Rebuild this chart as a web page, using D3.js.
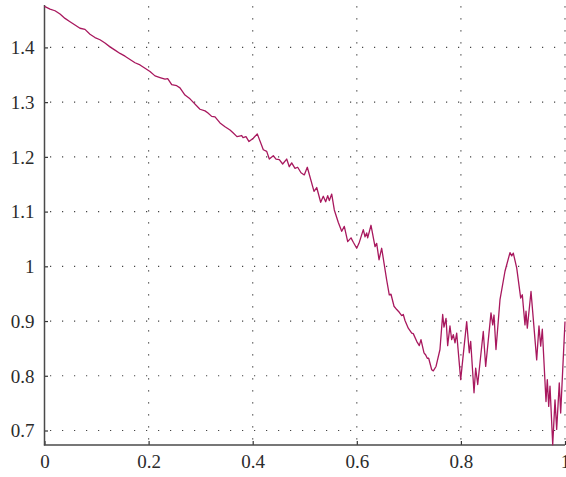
<!DOCTYPE html>
<html>
<head>
<meta charset="utf-8">
<script src="https://cdn.jsdelivr.net/npm/d3@7"></script>
<style>
  body { margin: 0; background: #fff; }
</style>
</head>
<body>
<div id="chart"></div>
<script>
// values
const xs = [0, 0.0106, 0.0202, 0.0298, 0.0394, 0.049, 0.0586, 0.0682, 0.0778, 0.0874,
  0.097, 0.1066, 0.1162, 0.1258, 0.1354, 0.1451, 0.1547, 0.1643, 0.1739, 0.1835,
  0.1931, 0.2027, 0.2123, 0.2219, 0.2315, 0.2367, 0.2444, 0.254, 0.2603, 0.2699,
  0.2795, 0.2987, 0.3084, 0.3141, 0.3212, 0.3276, 0.3372, 0.3468, 0.3564, 0.3622,
  0.3698, 0.3789, 0.3814, 0.3871, 0.3929, 0.4011, 0.4088, 0.4204, 0.4269, 0.4319,
  0.4396, 0.4448, 0.4511, 0.4576, 0.4653, 0.4703, 0.4749, 0.4813, 0.4864, 0.4928,
  0.4991, 0.5049, 0.5178, 0.523, 0.5306, 0.5356, 0.5402, 0.5441, 0.5472, 0.5518,
  0.5568, 0.5645, 0.571, 0.576, 0.5825, 0.5889, 0.5933, 0.5998, 0.6042, 0.6125,
  0.6158, 0.619, 0.6209, 0.6273, 0.635, 0.6382, 0.6427, 0.6478, 0.6523, 0.6574,
  0.6624, 0.6657, 0.6715, 0.6767, 0.6816, 0.6863, 0.6893, 0.6926, 0.6989, 0.7055,
  0.7085, 0.7151, 0.7201, 0.7233, 0.7291, 0.7324, 0.7354, 0.7381, 0.7439, 0.747,
  0.7522, 0.7598, 0.765, 0.7675, 0.7714, 0.7746, 0.779, 0.7823, 0.7854, 0.7887,
  0.7919, 0.7996, 0.8111, 0.8161, 0.8188, 0.8252, 0.8284, 0.8323, 0.843, 0.8476,
  0.8578, 0.8611, 0.8636, 0.8674, 0.8751, 0.8847, 0.8943, 0.8976, 0.9007, 0.9072,
  0.9149, 0.918, 0.9199, 0.9231, 0.9251, 0.9276, 0.9347, 0.9456, 0.95, 0.9533,
  0.9564, 0.9635, 0.966, 0.9687, 0.9712, 0.9764, 0.9808, 0.984, 0.989, 0.9917, 1];

const ys = [1.475, 1.470, 1.467, 1.461, 1.453, 1.447, 1.441, 1.435, 1.433, 1.424,
  1.418, 1.414, 1.408, 1.401, 1.395, 1.389, 1.384, 1.378, 1.372, 1.368,
  1.362, 1.356, 1.348, 1.345, 1.342, 1.343, 1.332, 1.330, 1.326, 1.313,
  1.306, 1.287, 1.284, 1.280, 1.274, 1.273, 1.262, 1.255, 1.249, 1.244,
  1.237, 1.239, 1.235, 1.237, 1.228, 1.234, 1.242, 1.213, 1.210, 1.196,
  1.202, 1.196, 1.195, 1.187, 1.196, 1.182, 1.189, 1.179, 1.181, 1.171,
  1.167, 1.181, 1.137, 1.144, 1.117, 1.128, 1.118, 1.129, 1.120, 1.132,
  1.103, 1.080, 1.064, 1.073, 1.045, 1.052, 1.044, 1.033, 1.042, 1.067,
  1.054, 1.061, 1.052, 1.075, 1.036, 1.042, 1.012, 1.033, 1.006, 0.975,
  0.948, 0.949, 0.927, 0.921, 0.916, 0.910, 0.912, 0.901, 0.887, 0.878,
  0.877, 0.863, 0.855, 0.866, 0.842, 0.838, 0.832, 0.832, 0.811, 0.809,
  0.817, 0.848, 0.912, 0.889, 0.905, 0.855, 0.891, 0.866, 0.875, 0.860,
  0.878, 0.793, 0.899, 0.842, 0.863, 0.769, 0.814, 0.784, 0.881, 0.817,
  0.915, 0.893, 0.911, 0.848, 0.939, 0.991, 1.025, 1.019, 1.024, 0.997,
  0.942, 0.948, 0.927, 0.893, 0.918, 0.887, 0.954, 0.829, 0.891, 0.854,
  0.885, 0.753, 0.793, 0.744, 0.781, 0.674, 0.756, 0.702, 0.787, 0.732, 0.899];

const xTicks = [0, 0.2, 0.4, 0.6, 0.8, 1];
const yTicks = [0.7, 0.8, 0.9, 1, 1.1, 1.2, 1.3, 1.4];

const width = 566;
const height = 477;
const plotLeft = 44.5, plotRight = 565, plotTop = 5, plotBottom = 445;

const points = xs.map((x, i) => ({ x: x, y: ys[i] }));

const svg = d3.select('#chart').append('svg')
	.attr('width', width)
	.attr('height', height);

const x = d3.scaleLinear().domain([0, 1]).range([plotLeft, plotRight]);
const y = d3.scaleLinear().domain([0.6735, 1.4775]).range([plotBottom, plotTop]);

// dotted grid
svg.append('g')
	.selectAll('line')
	.data(yTicks)
	.join('line')
		.attr('x1', plotLeft)
		.attr('x2', plotRight)
		.attr('y1', d => y(d))
		.attr('y2', d => y(d))
		.attr('stroke', '#444')
		.attr('stroke-width', 1.2)
		.attr('stroke-dasharray', '1.2 10.8')
		.attr('stroke-dashoffset', -5.5);

svg.append('g')
	.selectAll('line')
	.data(xTicks.filter(d => d > 0))
	.join('line')
		.attr('x1', d => x(d))
		.attr('x2', d => x(d))
		.attr('y1', plotBottom)
		.attr('y2', plotTop)
		.attr('stroke', '#444')
		.attr('stroke-width', 1.2)
		.attr('stroke-dasharray', '1.2 10.8')
		.attr('stroke-dashoffset', -5.5);

// axes
const xAxis = d3.axisBottom(x).tickValues(xTicks).tickSize(-4).tickPadding(8).tickFormat(d => String(d));
const yAxis = d3.axisLeft(y).tickValues(yTicks).tickSize(-3.5).tickPadding(10).tickFormat(d => String(d));

const gx = svg.append('g').attr('transform', `translate(0,${plotBottom})`).call(xAxis);
const gy = svg.append('g').attr('transform', `translate(${plotLeft},0)`).call(yAxis);

[gx, gy].forEach(g => {
	g.attr('font-family', '"Liberation Serif", "DejaVu Serif", serif')
	 .attr('font-size', 19);
	g.select('.domain').remove();
	g.selectAll('.tick line').attr('stroke', '#333').attr('stroke-width', 1.2);
	g.selectAll('.tick text')
		.style('font-family', '"Liberation Serif", serif')
		.style('font-size', '19px')
		.attr('fill', '#2b2b2b');
});
gx.selectAll('.tick text').attr('dy', '0.71em').attr('y', 10);
gy.selectAll('.tick text').attr('dy', '0.33em');

svg.append('line')
	.attr('x1', plotLeft).attr('x2', plotLeft)
	.attr('y1', plotTop).attr('y2', plotBottom + 0.6)
	.attr('stroke', '#4a4a4a').attr('stroke-width', 1.5);
svg.append('line')
	.attr('x1', plotLeft - 0.6).attr('x2', plotRight)
	.attr('y1', plotBottom).attr('y2', plotBottom)
	.attr('stroke', '#4a4a4a').attr('stroke-width', 1.5);

// the series
const line = d3.line()
	.x(d => x(d.x))
	.y(d => y(d.y));

svg.append('path')
	.datum(points)
	.attr('d', line)
	.attr('fill', 'none')
	.attr('stroke', '#a8185e')
	.attr('stroke-width', 1.3)
	.attr('stroke-linejoin', 'round');
</script>
</body>
</html>
